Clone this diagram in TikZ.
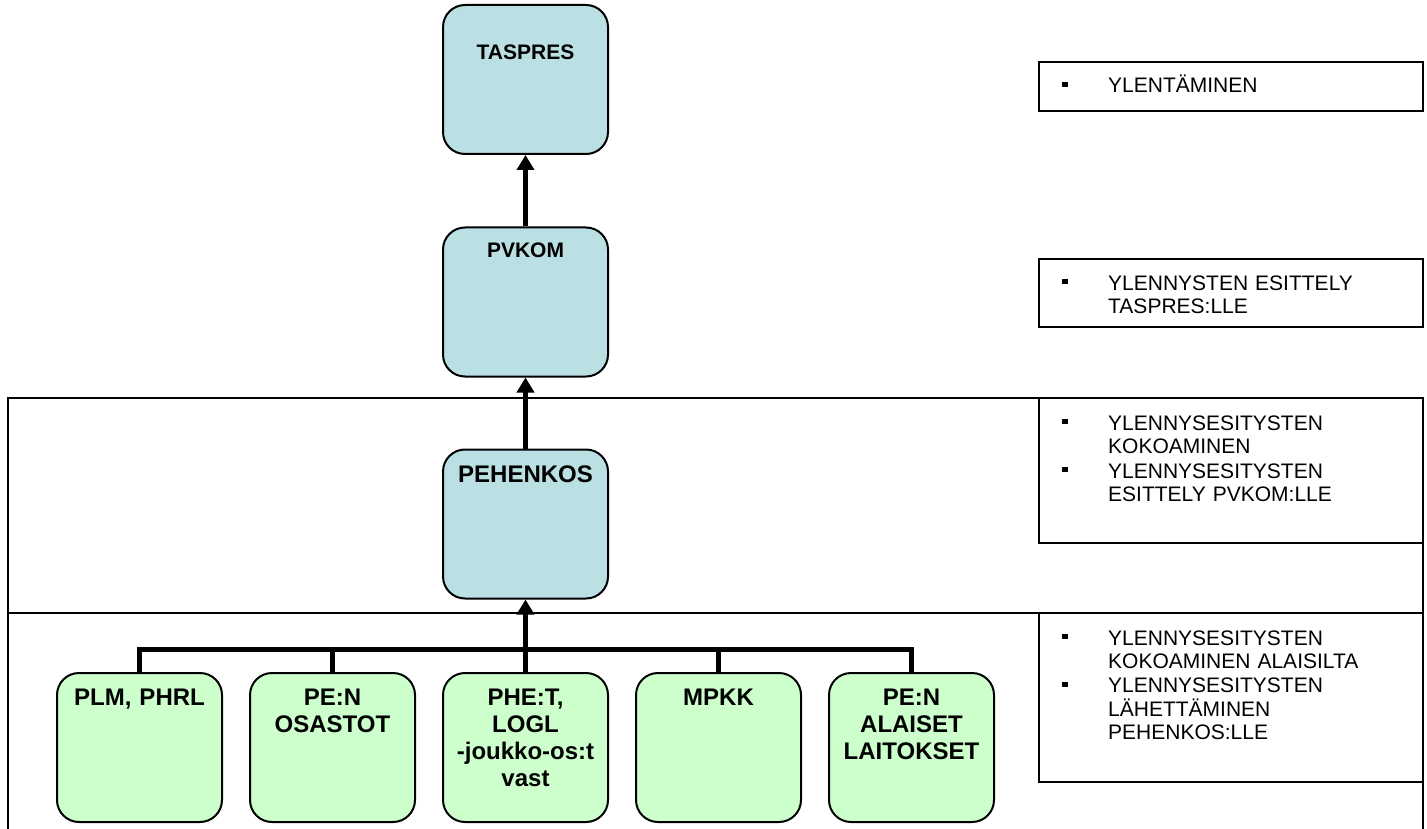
\documentclass[tikz,border=0pt]{standalone}
\usepackage{fontspec}
\setmainfont{Liberation Sans}
\usetikzlibrary{arrows.meta}
\definecolor{boxblue}{RGB}{187,224,227}
\definecolor{boxgreen}{RGB}{204,255,204}
\begin{document}
\begin{tikzpicture}[x=1pt,y=-1pt,
  orgbox/.style={draw=black, line width=2pt, rounded corners=22pt, minimum width=165pt, minimum height=149pt, inner sep=0pt},
  bluebox/.style={orgbox, fill=boxblue},
  greenbox/.style={orgbox, fill=boxgreen},
  bluetxt/.style={anchor=base, inner sep=0pt, font=\fontsize{21}{24}\selectfont\bfseries},
  bigtxt/.style={anchor=base, inner sep=0pt, text width=160pt, align=center, font=\fontsize{24}{27.3}\selectfont\bfseries},
  notebox/.style={draw=black, line width=1.5pt, fill=white, minimum width=384pt, inner sep=0pt},
  notetxt/.style={anchor=base west, inner sep=0pt, text width=310pt, align=left, font=\fontsize{21}{23.6}\selectfont},
  band/.style={draw=black, line width=1.5pt},
  conn/.style={line width=5pt},
  uparrow/.style={conn, -{Triangle[width=17pt,length=15pt]}}
]
\useasboundingbox (0,0) rectangle (1427,829);

% bands
\draw[band] (8,829) -- (8,398) -- (1423,398) -- (1423,829);
\draw[band] (8,613) -- (1423,613);

% note boxes
\node[notebox, minimum height=49pt] (n1) at (1231,86.5) {};
\node[notebox, minimum height=68pt] (n2) at (1231,293) {};
\node[notebox, minimum height=145pt] (n3) at (1231,470.5) {};
\node[notebox, minimum height=169pt] (n4) at (1231,697.5) {};

% note texts with bullets
\node[notetxt] (n1a) at (1108,93) {YLENTÄMINEN};
\fill (1062,82) rectangle (1068,87);
\node[notetxt] (n2a) at (1108,290) {YLENNYSTEN ESITTELY\\TASPRES:LLE};
\fill (1062,279) rectangle (1068,284);
\node[notetxt] (n3a) at (1108,430) {YLENNYSESITYSTEN\\KOKOAMINEN};
\fill (1062,419) rectangle (1068,424);
\node[notetxt] (n3b) at (1108,478) {YLENNYSESITYSTEN\\ESITTELY PVKOM:LLE};
\fill (1062,467) rectangle (1068,472);
\node[notetxt] (n4a) at (1108,645) {YLENNYSESITYSTEN\\KOKOAMINEN ALAISILTA};
\fill (1062,634) rectangle (1068,639);
\node[notetxt] (n4b) at (1108,692.5) {YLENNYSESITYSTEN\\LÄHETTÄMINEN\\PEHENKOS:LLE};
\fill (1062,681.5) rectangle (1068,686.5);

% blue boxes
\node[bluebox] (tas) at (525.5,79.5) {};
\node[bluebox] (pv) at (525.5,302) {};
\node[bluebox] (peh) at (525.5,524) {};
\node[bluetxt] (tast) at (525.5,59.3) {TASPRES};
\node[bluetxt] (pvt) at (525.5,257.3) {PVKOM};
\node[bluetxt, font=\fontsize{24}{27}\selectfont\bfseries] (peht) at (525.5,482) {PEHENKOS};

% green boxes
\node[greenbox] (g1) at (139.5,747.5) {};
\node[greenbox] (g2) at (332.5,747.5) {};
\node[greenbox] (g3) at (525.5,747.5) {};
\node[greenbox] (g4) at (718.5,747.5) {};
\node[greenbox] (g5) at (911.5,747.5) {};
\node[bigtxt] (g1t) at (139.5,705) {PLM, PHRL};
\node[bigtxt] (g2t) at (332.5,705) {PE:N\\OSASTOT};
\node[bigtxt] (g3t) at (525.5,705) {PHE:T,\\LOGL\\-joukko-os:t\\vast};
\node[bigtxt] (g4t) at (718.5,705) {MPKK};
\node[bigtxt] (g5t) at (911.5,705) {PE:N\\ALAISET\\LAITOKSET};

% connectors
\coordinate (bus) at (525.5,649);
\draw[conn] (g1.north) |- (bus) -| (g5.north);
\draw[conn] (g2.north) -- (g2.north |- bus);
\draw[conn] (g3.north) -- (bus);
\draw[conn] (g4.north) -- (g4.north |- bus);
\draw[uparrow] (bus) -- (peh.south);
\draw[uparrow] (peh.north) -- (pv.south);
\draw[uparrow] (pv.north) -- (tas.south);
\end{tikzpicture}
\end{document}
